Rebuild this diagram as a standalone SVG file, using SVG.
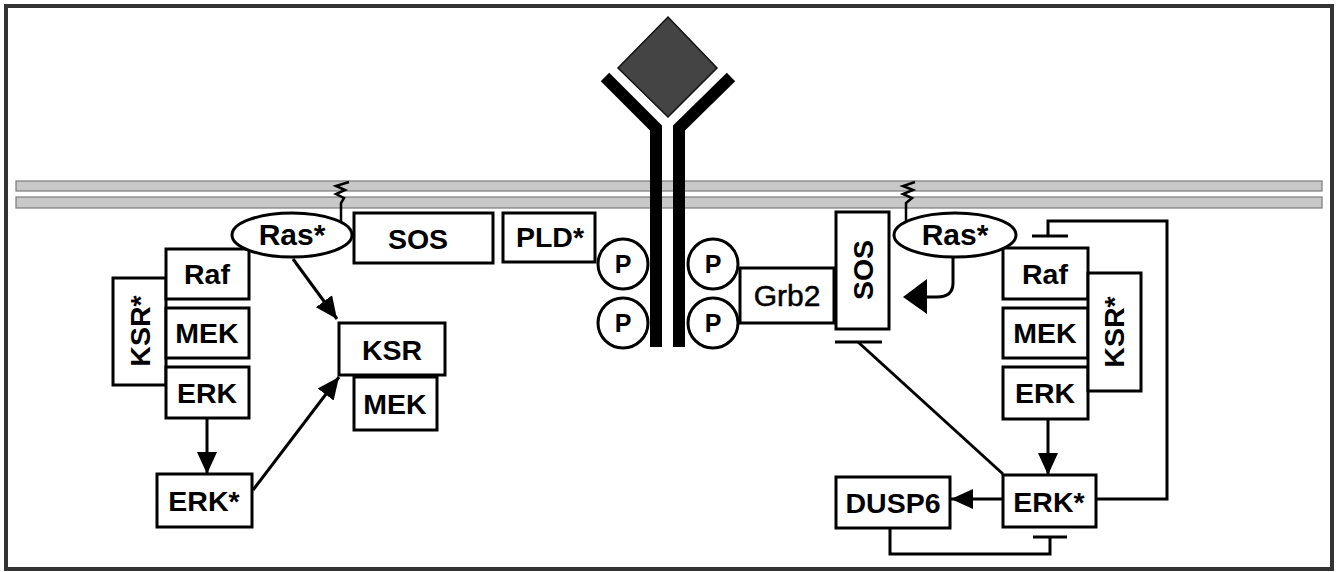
<svg xmlns="http://www.w3.org/2000/svg" width="1341" height="572" viewBox="0 0 1341 572">
<style>
.bx{fill:#fff;stroke:#000;stroke-width:3}
.t{font-family:"Liberation Sans",Arial,sans-serif;font-weight:bold;font-size:28.5px;text-anchor:middle;fill:#000}
.tr{font-family:"Liberation Sans",Arial,sans-serif;font-weight:bold;font-size:30px;text-anchor:middle;fill:#000}
.tn{font-family:"Liberation Sans",Arial,sans-serif;font-weight:normal;font-size:30px;text-anchor:middle;fill:#000;stroke:#000;stroke-width:0.5}
.tp{font-family:"Liberation Sans",Arial,sans-serif;font-weight:bold;font-size:25px;text-anchor:middle;fill:#000}
.ln{fill:none;stroke:#000;stroke-width:3}
.thin{fill:none;stroke:#000;stroke-width:2.5}
.mem{fill:#c8c8c8;stroke:#7a7a7a;stroke-width:1.2}
</style>
<defs>
<marker id="ah" markerUnits="userSpaceOnUse" markerWidth="24" markerHeight="24" viewBox="0 0 24 24" refX="22" refY="12" orient="auto">
<path d="M0,2 L22,12 L0,22 Z" fill="#000"/>
</marker>
</defs>
<rect x="0" y="0" width="1341" height="572" fill="#fff"/>
<rect x="6" y="6" width="1326" height="563" fill="none" stroke="#333" stroke-width="4"/>
<g id="membrane">
<rect class="mem" x="16" y="181" width="1306" height="10"/>
<rect class="mem" x="16" y="197" width="1306" height="11"/>
</g>
<g id="receptor">
<polygon points="668,17 717,68 668,117 618,68" fill="#444" stroke="#111" stroke-width="1.5"/>
<polyline points="605,77 656,128 656,347" fill="none" stroke="#000" stroke-width="12" stroke-linejoin="miter"/>
<polyline points="731,77 679,128 679,347" fill="none" stroke="#000" stroke-width="12" stroke-linejoin="miter"/>
</g>
<g id="connectors">
<path class="thin" d="M349,182 L336,186 L345,190 L336,194 L344,198 L341,203 V222"/>
<path class="thin" d="M915,182 L903,186 L913,190 L903,194 L912,198 L906,203 V222"/>
<line class="ln" x1="293" y1="259" x2="337" y2="319" marker-end="url(#ah)"/>
<line class="ln" x1="207" y1="418" x2="207" y2="474" marker-end="url(#ah)"/>
<line class="ln" x1="253" y1="490" x2="339" y2="377" marker-end="url(#ah)"/>
<path class="ln" d="M953,258 V283 Q953,297 937,297 H925"/>
<polygon points="903,297 927,279 927,314" fill="#000"/>
<line class="ln" x1="835" y1="342" x2="882" y2="342"/>
<line class="ln" x1="858" y1="342" x2="1003" y2="474"/>
<line class="ln" x1="1048" y1="419" x2="1048" y2="475" marker-end="url(#ah)"/>
<line class="ln" x1="1003" y1="499" x2="951" y2="499" marker-end="url(#ah)"/>
<path class="ln" d="M1096,499 H1167 V221 H1048 V236"/>
<line class="ln" x1="1032" y1="236" x2="1068" y2="236"/>
<path class="ln" d="M890,528 V554 H1050 V537"/>
<line class="ln" x1="1033" y1="537" x2="1067" y2="537"/>
</g>
<g id="ksr-star-left"><rect class="bx" x="113" y="278" width="53" height="107"/><text class="t" transform="translate(150,331) rotate(-90)">KSR*</text></g>
<g id="raf-left"><rect class="bx" x="166" y="249" width="83" height="50"/><text class="t" x="207" y="284">Raf</text></g>
<g id="mek-left"><rect class="bx" x="166" y="308" width="83" height="50"/><text class="t" x="207" y="343">MEK</text></g>
<g id="erk-left"><rect class="bx" x="166" y="367" width="83" height="51"/><text class="t" x="207" y="403">ERK</text></g>
<g id="erk-star-left"><rect class="bx" x="157" y="474" width="95" height="53"/><text class="t" x="204" y="511">ERK*</text></g>
<g id="ras-left"><ellipse class="bx" cx="292" cy="235" rx="60" ry="22"/><text class="tr" x="292" y="245">Ras*</text></g>
<g id="sos-left"><rect class="bx" x="354" y="213" width="139" height="50"/><text class="t" x="418" y="249">SOS</text></g>
<g id="ksr-left"><rect class="bx" x="339" y="323" width="106" height="52"/><text class="t" x="392" y="360">KSR</text></g>
<g id="mek-left2"><rect class="bx" x="354" y="377" width="83" height="53"/><text class="t" x="395" y="414">MEK</text></g>
<g id="pld"><rect class="bx" x="503" y="213" width="92" height="49"/><text class="t" x="550" y="247">PLD*</text></g>
<g id="p1"><circle class="bx" cx="623" cy="264" r="25"/><text class="tp" x="623" y="273">P</text></g>
<g id="p2"><circle class="bx" cx="623" cy="323" r="25"/><text class="tp" x="623" y="332">P</text></g>
<g id="p3"><circle class="bx" cx="713" cy="264" r="25"/><text class="tp" x="713" y="273">P</text></g>
<g id="p4"><circle class="bx" cx="713" cy="323" r="25"/><text class="tp" x="713" y="332">P</text></g>
<g id="grb2"><rect class="bx" x="740" y="268" width="94" height="55" stroke-width="2"/><text class="tn" x="787" y="306">Grb2</text></g>
<g id="sos-right"><rect class="bx" x="836" y="212" width="53" height="117"/><text class="t" transform="translate(873,270) rotate(-90)">SOS</text></g>
<g id="raf-right"><rect class="bx" x="1003" y="248" width="85" height="51"/><text class="t" x="1045" y="284">Raf</text></g>
<g id="mek-right"><rect class="bx" x="1003" y="308" width="85" height="50"/><text class="t" x="1045" y="343">MEK</text></g>
<g id="erk-right"><rect class="bx" x="1003" y="367" width="85" height="52"/><text class="t" x="1045" y="403">ERK</text></g>
<g id="ksr-star-right"><rect class="bx" x="1088" y="273" width="53" height="118"/><text class="t" transform="translate(1124,332) rotate(-90)">KSR*</text></g>
<g id="ras-right"><ellipse class="bx" cx="955" cy="235" rx="61" ry="22"/><text class="tr" x="955" y="245">Ras*</text></g>
<g id="erk-star-right"><rect class="bx" x="1003" y="475" width="93" height="52"/><text class="t" x="1049" y="512">ERK*</text></g>
<g id="dusp6"><rect class="bx" x="836" y="477" width="114" height="51"/><text class="t" x="893" y="513">DUSP6</text></g>
</svg>
